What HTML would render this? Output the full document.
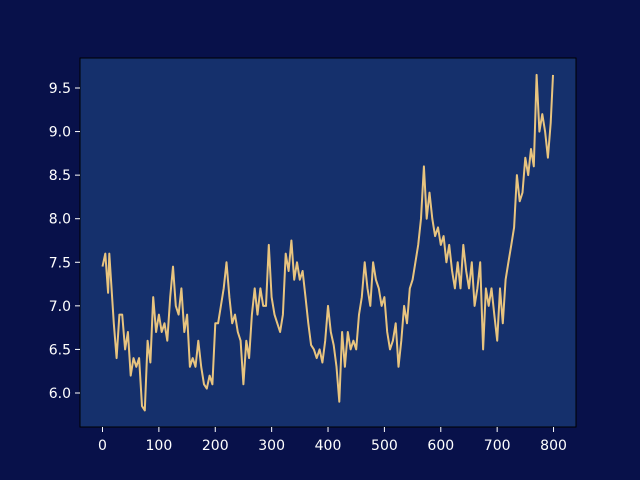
<!DOCTYPE html>
<html><head><meta charset="utf-8"><style>
body{margin:0;background:#08114a;}
svg{display:block;font-family:"DejaVu Sans","Liberation Sans",sans-serif;}
</style></head><body>
<svg id="chart" width="640" height="480">
<rect x="0" y="0" width="640" height="480" fill="#08114a"/>
<rect x="80" y="58" width="496" height="369" fill="#15306c" stroke="#000" stroke-width="1"/>
<g id="xt"></g>
<g id="yt"></g>
<path id="line" fill="none" stroke="#e8c47f" stroke-width="2" stroke-linejoin="round"/>
</svg>
<script>
const xs=[0,5,10,12,20,25,30,35,40,45,50,55,60,65,70,75,80,85,90,95,100,105,110,115,120,125,130,135,140,145,150,155,160,165,170,175,180,185,190,195,200,205,210,215,220,225,230,235,240,245,250,255,260,265,270,275,280,285,290,295,300,305,310,315,320,325,330,335,340,345,350,355,360,365,370,375,380,385,390,395,400,405,410,415,420,425,430,435,440,445,450,455,460,465,470,475,480,485,490,495,500,505,510,515,520,525,530,535,540,545,550,555,560,565,570,575,580,585,590,595,600,605,610,615,620,625,630,635,640,645,650,655,660,665,670,675,680,685,690,695,700,705,710,715,720,725,730,735,740,745,750,755,760,765,770,775,780,785,790,795,799];
const ys=[7.45,7.6,7.15,7.6,6.8,6.4,6.9,6.9,6.5,6.7,6.2,6.4,6.3,6.4,5.85,5.8,6.6,6.35,7.1,6.7,6.9,6.7,6.8,6.6,7.1,7.45,7.0,6.9,7.2,6.7,6.9,6.3,6.4,6.3,6.6,6.3,6.1,6.05,6.2,6.1,6.8,6.8,7.0,7.2,7.5,7.1,6.8,6.9,6.7,6.6,6.1,6.6,6.4,6.9,7.2,6.9,7.2,7.0,7.0,7.7,7.1,6.9,6.8,6.7,6.9,7.6,7.4,7.75,7.3,7.5,7.3,7.4,7.1,6.8,6.55,6.5,6.4,6.5,6.35,6.6,7.0,6.7,6.55,6.3,5.9,6.7,6.3,6.7,6.5,6.6,6.5,6.9,7.1,7.5,7.2,7.0,7.5,7.3,7.2,7.0,7.1,6.7,6.5,6.6,6.8,6.3,6.6,7.0,6.8,7.2,7.3,7.5,7.7,8.0,8.6,8.0,8.3,8.0,7.8,7.9,7.7,7.8,7.5,7.7,7.4,7.2,7.5,7.2,7.7,7.4,7.2,7.5,7.0,7.2,7.5,6.5,7.2,7.0,7.2,6.9,6.6,7.2,6.8,7.3,7.5,7.7,7.9,8.5,8.2,8.3,8.7,8.5,8.8,8.6,9.65,9.0,9.2,9.0,8.7,9.1,9.65];
const xTicks=[0,100,200,300,400,500,600,700,800];
const yTicks=[6.0,6.5,7.0,7.5,8.0,8.5,9.0,9.5];
const X=v=>102.5+(v)*0.5638, Y=v=>88-(v-9.5)*87.14;
const NS="http://www.w3.org/2000/svg";
const xt=document.getElementById('xt'), yt=document.getElementById('yt');
xTicks.forEach(t=>{
 const l=document.createElementNS(NS,'line');l.setAttribute('x1',X(t));l.setAttribute('x2',X(t));l.setAttribute('y1',427);l.setAttribute('y2',432);l.setAttribute('stroke','#fff');
 
 
 xt.appendChild(l);
 const s=document.createElementNS(NS,'text');s.setAttribute('x',X(t));s.setAttribute('y',450);s.setAttribute('fill','#fff');s.setAttribute('font-size','14');s.setAttribute('text-anchor','middle');s.textContent=t;
 
 
 xt.appendChild(s);
});
yTicks.forEach(t=>{
 const l=document.createElementNS(NS,'line');l.setAttribute('x1',75);l.setAttribute('x2',80);l.setAttribute('y1',Y(t));l.setAttribute('y2',Y(t));l.setAttribute('stroke','#fff');
 
 
 yt.appendChild(l);
 const s=document.createElementNS(NS,'text');s.setAttribute('x',71);s.setAttribute('y',Y(t)+5);s.setAttribute('fill','#fff');s.setAttribute('font-size','14');s.setAttribute('text-anchor','end');s.textContent=t.toFixed(1);
 
 
 yt.appendChild(s);
});
document.getElementById('line').setAttribute('d',xs.map((x,i)=>(i?'L':'M')+X(x).toFixed(1)+' '+Y(ys[i]).toFixed(1)).join(' '));
</script>
</body></html>
